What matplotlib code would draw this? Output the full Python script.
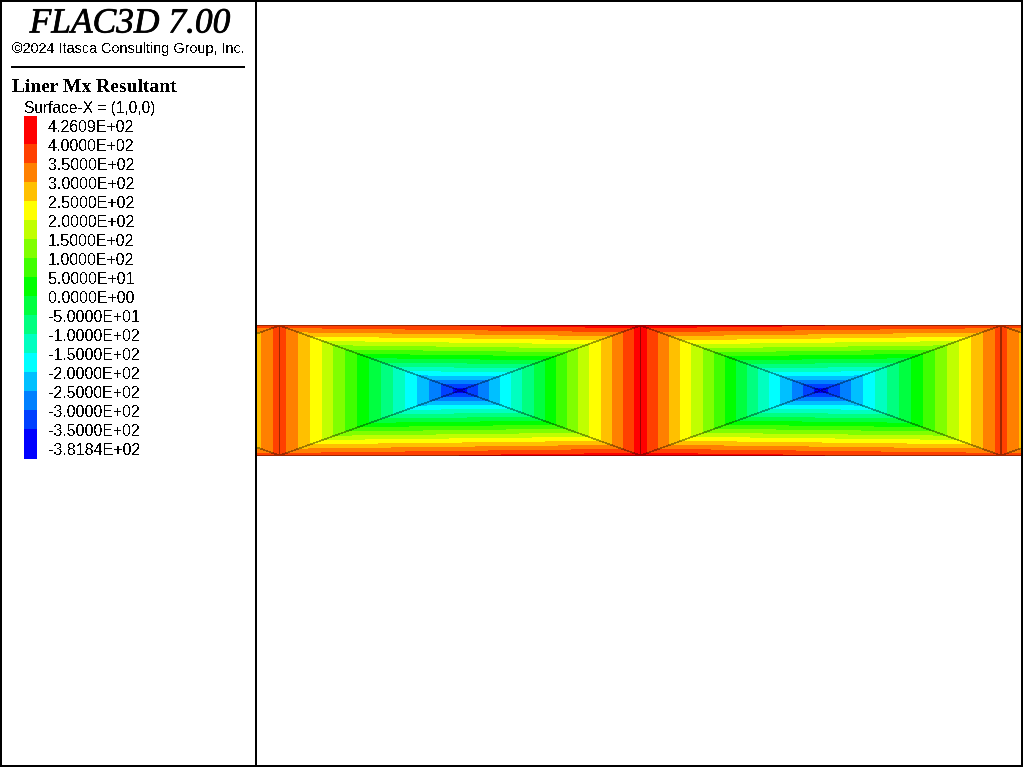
#!/usr/bin/env python3
import matplotlib
matplotlib.use('Agg')
import matplotlib.pyplot as plt
import matplotlib.patheffects as pe
import matplotlib.tri as mtri
import numpy as np

# contour levels, top of the legend first
levels = [426.09, 400, 350, 300, 250, 200, 150, 100, 50, 0, -50, -100, -150,
          -200, -250, -300, -350, -381.84]
band_colors = ['#ff0000', '#ff4000', '#ff8000', '#ffc000', '#ffff00', '#c0ff00',
               '#80ff00', '#40ff00', '#00ff00', '#00ff40', '#00ff80', '#00ffc0',
               '#00ffff', '#00c0ff', '#0080ff', '#0040ff', '#0000ff']

# liner elements, read in screen pixels. corners are on the top and bottom edge
corner_x = [-82.0, 279.5, 640.5, 1001.0, 1362.0]
corner_mx = [426.09, 374.0, 426.09, 375.0, 426.09]
center_x = [98.8, 460.0, 820.5, 1181.5]
center_mx = [-381.84, -381.84, -381.84, -381.84]
edge_top = 325.5
edge_bottom = 455.5
edge_mid = 390.5

title = 'FLAC3D 7.00'
copyright_text = '\u00a92024 Itasca Consulting Group, Inc.'
plot_title = 'Liner Mx Resultant'
surface_text = 'Surface-X = (1,0,0)'

plt.rcParams['text.antialiased'] = False

fig = plt.figure(figsize=(10.24, 7.68), dpi=100)
W, H = 1024.0, 768.0


def pixel_axes(x0, x1, y0, y1):
	"""
	Axes whose data units are the screen pixels of the picture.
	"""
	ax = fig.add_axes([x0 / W, 1 - y1 / H, (x1 - x0) / W, (y1 - y0) / H])
	ax.set_xlim(x0, x1)
	ax.set_ylim(y1, y0)
	ax.set_xticks([])
	ax.set_yticks([])
	for sp in ax.spines.values():
		sp.set_linewidth(1.44)
		sp.set_color('black')
	return ax


# contour panel
ax = pixel_axes(256, 1022, 1, 766)
node_x, node_y, node_v, triangles = [], [], [], []
for cx, cv in zip(corner_x, corner_mx):
	node_x += [cx, cx]
	node_y += [edge_top, edge_bottom]
	node_v += [cv, cv]
for i, (mx, mv) in enumerate(zip(center_x, center_mx)):
	c = len(node_x)
	node_x.append(mx)
	node_y.append(edge_mid)
	node_v.append(mv)
	tl, bl, tr, br = 2 * i, 2 * i + 1, 2 * i + 2, 2 * i + 3
	triangles += [[c, tl, tr], [c, tr, br], [c, br, bl], [c, bl, tl]]

tri = mtri.Triangulation(np.array(node_x), np.array(node_y), np.array(triangles))
ax.tricontourf(tri, np.array(node_v), levels=levels[::-1], colors=band_colors[::-1],
	antialiased=False)
ax.triplot(tri, color='black', alpha=0.38, lw=0.36, antialiased=False)
ax.set_xlim(256, 1022)
ax.set_ylim(766, 1)

# legend panel
side = pixel_axes(1, 256, 1, 766)
side.text(130, 24, title, family='Liberation Serif', style='italic', fontsize=25.5,
	ha='center', va='center', antialiased=True,
	path_effects=[pe.withStroke(linewidth=0.5, foreground='black')])
side.text(128, 49, copyright_text, family='Liberation Sans', fontsize=10.4, ha='center', va='center')
side.plot([11, 245], [67, 67], color='black', lw=1.44, solid_capstyle='butt')
side.text(12, 87, plot_title, family='Liberation Serif', weight='bold', fontsize=14, va='center')
side.text(24, 108, surface_text, family='Liberation Sans', fontsize=11.2, va='center')

swatch_edges = [116] + [144 + 19 * i for i in range(16)] + [459]
for i, col in enumerate(band_colors):
	side.bar(30.5, swatch_edges[i + 1] - swatch_edges[i], bottom=swatch_edges[i], width=13,
		color=col, linewidth=0, antialiased=False)
for i, v in enumerate(levels):
	side.text(48, 127.4 + 19 * i, '%.4E' % v, family='Liberation Sans', fontsize=11.5, va='center')
side.set_xlim(1, 256)
side.set_ylim(766, 1)

fig.savefig('out.png', dpi=100)
